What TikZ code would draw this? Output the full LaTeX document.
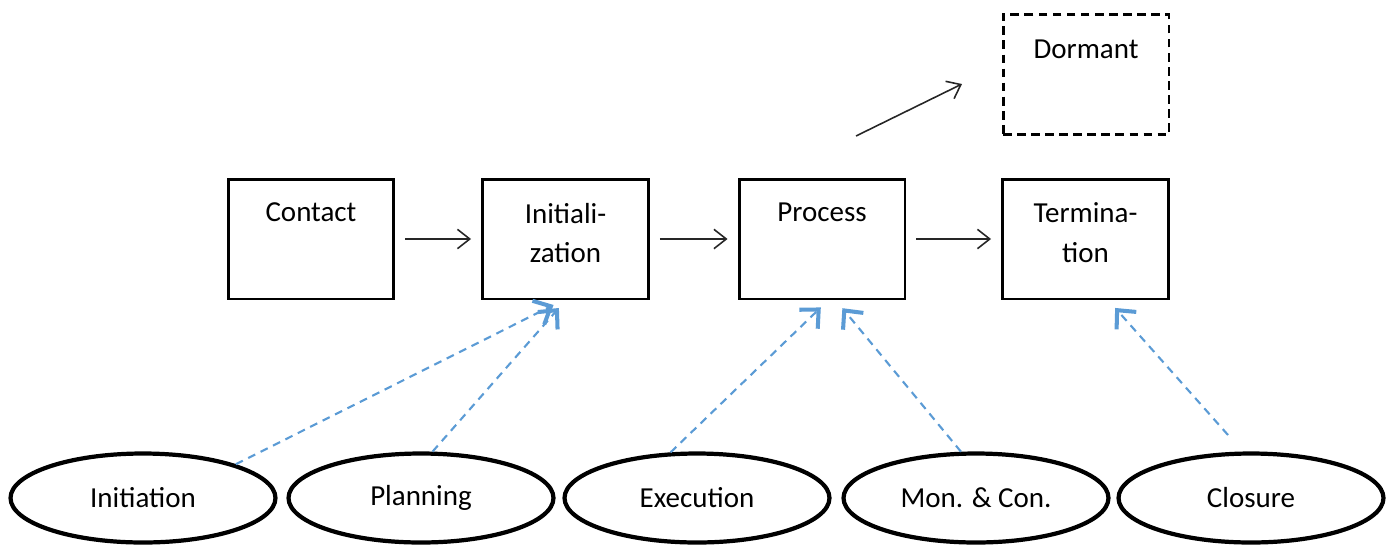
\documentclass[tikz,border=0pt]{standalone}
\usepackage{fontspec}
\setmainfont{Carlito}
\usetikzlibrary{arrows.meta,shapes.geometric}
\definecolor{phaseblue}{RGB}{91,155,213}
\begin{document}
\begin{tikzpicture}[x=0.02cm, y=-0.02cm,
  font=\fontsize{16.5}{22.7}\selectfont,
  stage/.style={shape=rectangle, draw=black, line width=1.7pt, minimum width=3.32cm, minimum height=2.4cm},
  stagetext/.style={anchor=north, inner sep=0pt, align=center, yshift=-0.5cm},
  phase/.style={shape=ellipse, draw=black, line width=2.4pt, minimum width=5.3cm, minimum height=1.78cm, inner sep=0pt},
  flow/.style={-{Straight Barb[length=7pt,width=11pt]}, line width=0.9pt, draw=black!85, shorten <=0.2cm, shorten >=0.2cm},
  feed/.style={-{Straight Barb[length=8pt,width=15pt,line width=2.3pt]}, line width=1.2pt, draw=phaseblue, dash pattern=on 4.5pt off 3.4pt, shorten >=0.2cm}]
\useasboundingbox (0,0) rectangle (1395,545);
% life-cycle stages
\node[stage, label={[stagetext]north:Contact}] (C) at (311,239) {};
\node[stage, label={[stagetext]north:Initiali-\\zation}] (I) at (565.5,239) {};
\node[stage, label={[stagetext]north:Process}] (P) at (822,239) {};
\node[stage, label={[stagetext]north:Termina-\\tion}] (T) at (1085.5,239) {};
\node[stage, dashed, dash pattern=on 5pt off 3pt, label={[stagetext, yshift=-0.04cm]north:Dormant}] (D) at (1086,74.5) {};
% project phases
\node[phase] (a) at (143,498) {Initiation};
\node[phase] (b) at (421,498) {Planning};
\node[phase] (c) at (697,498) {Execution};
\node[phase] (d) at (976,498) {Mon. \& Con.};
\node[phase] (e) at (1251,498) {Closure};
\coordinate (s) at (856,136);
\coordinate (t) at (962,84);
\coordinate (z) at (1228,435);
\draw[flow] (C) -- (I);
\draw[flow] (I) -- (P);
\draw[flow] (P) -- (T);
\draw[flow, shorten <=0pt, shorten >=0pt] (s) -- (t);
\draw[feed] (a.20) -- ([xshift=-0.06cm]I.south);
\draw[feed] (b.76) -- (I.south);
\draw[feed] (c.120) -- ([xshift=0.12cm]P.south);
\draw[feed] (d.108) -- ([xshift=0.28cm]P.south);
\draw[feed] (z) -- ([xshift=0.46cm]T.south);
\end{tikzpicture}
\end{document}
